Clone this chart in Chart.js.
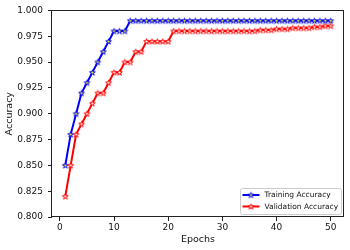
<!DOCTYPE html>
<html>
<head>
<meta charset="utf-8">
<script src="https://cdn.jsdelivr.net/npm/chart.js@4"></script>
<style>
  html, body { margin: 0; padding: 0; background: #fff; }
  #c { display: block; }
</style>
</head>
<body>
<canvas id="c" width="350" height="250"></canvas>
<script>
const epochs = [1,2,3,4,5,6,7,8,9,10,11,12,13,14,15,16,17,18,19,20,21,22,23,24,25,26,27,28,29,30,31,32,33,34,35,36,37,38,39,40,41,42,43,44,45,46,47,48,49,50];
const trainAcc = [0.85,0.88,0.90,0.92,0.93,0.94,0.95,0.96,0.97,0.98,0.98,0.98,
  0.99,0.99,0.99,0.99,0.99,0.99,0.99,0.99,0.99,0.99,0.99,0.99,0.99,0.99,0.99,0.99,0.99,0.99,0.99,0.99,0.99,0.99,0.99,0.99,0.99,0.99,
  0.99,0.99,0.99,0.99,0.99,0.99,0.99,0.99,0.99,0.99,0.99,0.99];
const valAcc = [0.82,0.85,0.88,0.89,0.90,0.91,0.92,0.92,0.93,0.94,0.94,0.95,0.95,0.96,0.96,0.97,0.97,0.97,0.97,0.97,0.98,
  0.98,0.98,0.98,0.98,0.98,0.98,0.98,0.98,0.98,0.98,0.98,0.98,0.98,0.98,0.98,
  0.981,0.981,0.981,0.982,0.982,0.982,0.983,0.983,0.983,0.983,0.984,0.984,0.985,0.985];
const seriesLabels = ['Training Accuracy', 'Validation Accuracy'];
const xTickValues = [0,10,20,30,40,50];
const yTickValues = [0.800,0.825,0.850,0.875,0.900,0.925,0.950,0.975,1.000];
const xLabel = 'Epochs';
const yLabel = 'Accuracy';

const FONT = "'DejaVu Sans', 'Liberation Sans', sans-serif";
const TEXT = '#111';

function makeStar(fill, stroke) {
  const s = 9;
  const c = document.createElement('canvas');
  c.width = s; c.height = s;
  const g = c.getContext('2d');
  const cx = s / 2, cy = s / 2 + 0.3, R = 3.0, r = R * 0.382;
  g.beginPath();
  for (let i = 0; i < 10; i++) {
    const a = -Math.PI / 2 + i * Math.PI / 5;
    const rad = (i % 2) ? r : R;
    const px = cx + rad * Math.cos(a), py = cy + rad * Math.sin(a);
    if (i === 0) g.moveTo(px, py); else g.lineTo(px, py);
  }
  g.closePath();
  g.fillStyle = fill; g.fill();
  g.lineWidth = 1; g.strokeStyle = stroke; g.stroke();
  return c;
}
const blueStar = makeStar('#ffff00', '#0000ff');
const redStar = makeStar('#ffffff', '#ff0000');

const framePlugin = {
  id: 'frame',
  afterDatasetsDraw(chart) {
    const {ctx, chartArea: a} = chart;
    ctx.save();
    ctx.strokeStyle = '#222';
    ctx.lineWidth = 1;
    const l = Math.round(a.left) - 0.5, t = Math.round(a.top) + 0.5;
    const r = Math.round(a.right) - 0.5, b = Math.round(a.bottom) - 0.5;
    ctx.strokeRect(l, t, r - l, b - t);
    ctx.restore();
  }
};

const legendPlugin = {
  id: 'innerLegend',
  afterDraw(chart) {
    const {ctx, chartArea: a} = chart;
    const w = 101, h = 26;
    const x0 = a.right - 103.5, y0 = a.bottom - 28.5;
    ctx.save();
    ctx.beginPath();
    if (ctx.roundRect) ctx.roundRect(x0, y0, w, h, 2); else ctx.rect(x0, y0, w, h);
    ctx.fillStyle = 'rgba(255,255,255,0.85)';
    ctx.fill();
    ctx.strokeStyle = '#cccccc';
    ctx.lineWidth = 1;
    ctx.stroke();
    const rows = [y0 + 6.5, y0 + 18];
    chart.data.datasets.forEach((ds, i) => {
      const y = rows[i];
      ctx.beginPath();
      ctx.moveTo(x0 + 2, y);
      ctx.lineTo(x0 + 19, y);
      ctx.strokeStyle = ds.borderColor;
      ctx.lineWidth = 2;
      ctx.stroke();
      const img = ds.pointStyle;
      ctx.drawImage(img, x0 + 10.5 - img.width / 2, y - img.height / 2);
      ctx.fillStyle = TEXT;
      ctx.font = '7.5px ' + FONT;
      ctx.textBaseline = 'middle';
      ctx.textAlign = 'left';
      ctx.fillText(ds.label, x0 + 24, y + 0.5);
    });
    ctx.restore();
  }
};

new Chart(document.getElementById('c'), {
  type: 'line',
  data: {
    datasets: [
      {
        label: seriesLabels[0],
        data: epochs.map((e, i) => ({x: e, y: trainAcc[i]})),
        borderColor: '#0000ff',
        backgroundColor: '#0000ff',
        borderWidth: 2,
        pointStyle: blueStar,
        pointRadius: 3,
        fill: false,
        tension: 0,
        order: 1
      },
      {
        label: seriesLabels[1],
        data: epochs.map((e, i) => ({x: e, y: valAcc[i]})),
        borderColor: '#ff0000',
        backgroundColor: '#ff0000',
        borderWidth: 2,
        pointStyle: redStar,
        pointRadius: 3,
        fill: false,
        tension: 0,
        order: 0
      }
    ]
  },
  options: {
    responsive: false,
    animation: false,
    devicePixelRatio: 1,
    layout: { padding: { top: 9, right: 6, left: 0, bottom: 0 } },
    plugins: {
      legend: { display: false },
      tooltip: { enabled: false }
    },
    scales: {
      x: {
        type: 'linear',
        min: -1.45,
        max: 52.45,
        afterBuildTicks(s) { s.ticks = xTickValues.map(v => ({value: v})); },
        afterFit(s) { s.height = 33; },
        grid: { display: true, drawOnChartArea: false, drawTicks: true, tickLength: 4, color: '#222', lineWidth: 1 },
        border: { display: false },
        ticks: {
          autoSkip: false, maxRotation: 0, padding: 1,
          color: TEXT, font: { family: FONT, size: 9 },
          callback: v => String(v)
        },
        title: { display: true, text: xLabel, color: TEXT, font: { family: FONT, size: 9.5 }, padding: { top: 0, bottom: 5 } }
      },
      y: {
        type: 'linear',
        min: 0.8,
        max: 1.0,
        afterBuildTicks(s) { s.ticks = yTickValues.map(v => ({value: v})); },
        afterFit(s) { s.width = 52; },
        grid: { display: true, drawOnChartArea: false, drawTicks: true, tickLength: 4, color: '#222', lineWidth: 1 },
        border: { display: false },
        ticks: {
          autoSkip: false, padding: 5,
          color: TEXT, font: { family: FONT, size: 9 },
          callback: v => Number(v).toFixed(3)
        },
        title: { display: true, text: yLabel, color: TEXT, font: { family: FONT, size: 9.5 }, padding: { top: 4, bottom: 0 } }
      }
    }
  },
  plugins: [framePlugin, legendPlugin]
});
</script>
</body>
</html>
